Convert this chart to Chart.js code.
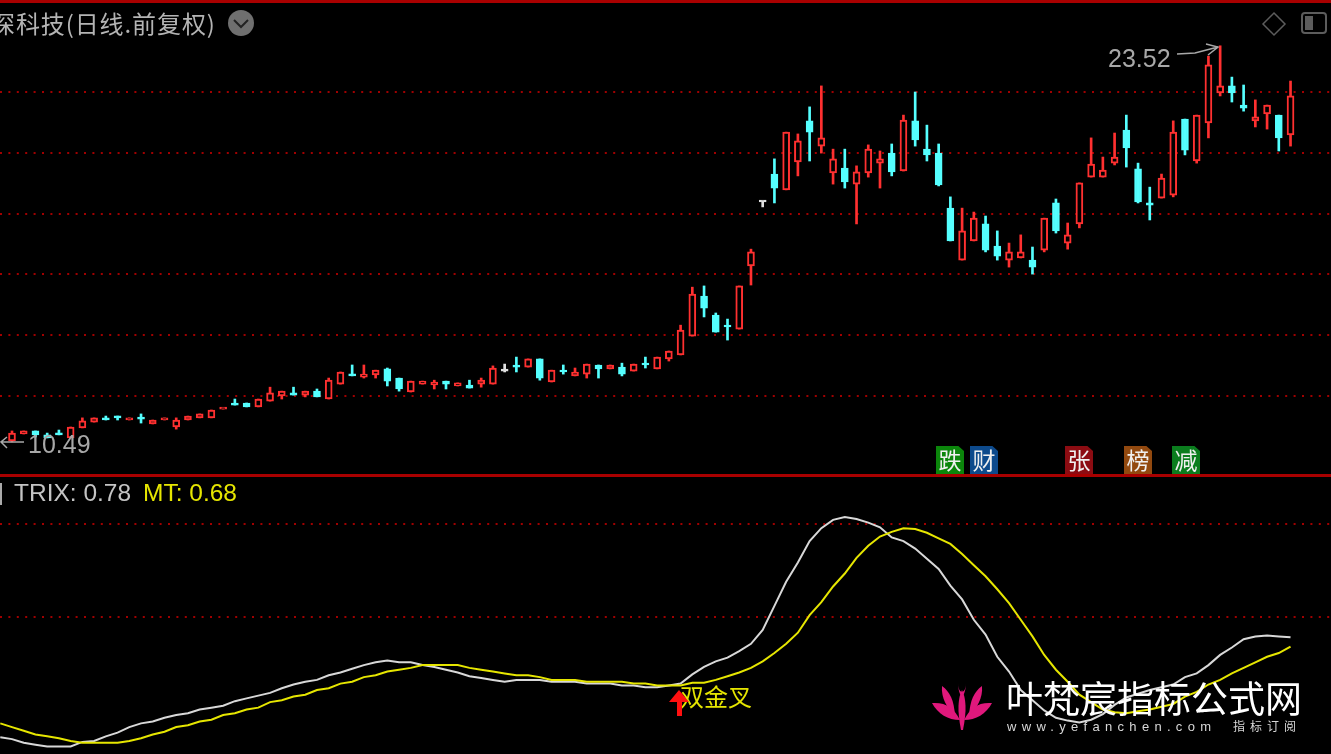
<!DOCTYPE html>
<html>
<head>
<meta charset="utf-8">
<title>深科技 TRIX</title>
<script src="https://cdn.jsdelivr.net/npm/chart.js@4"></script>
<style>
  html, body { margin: 0; padding: 0; background: #000; overflow: hidden; }
  #page { position: relative; width: 1331px; height: 754px; background: #000; overflow: hidden; font-family: "Liberation Sans", sans-serif; }
  canvas { position: absolute; left: 0; }
  .rule { position: absolute; left: 0; width: 1331px; height: 3px; background: #a80000; }
  .txt { position: absolute; white-space: nowrap; line-height: 1; }
  .cjk { font-family: "Noto Sans CJK SC", sans-serif; }
  .badge { position: absolute; top: 446px; width: 28px; height: 28px; line-height: 28px; text-align: center; color: #f0f0f0; font: 23px/27px "Noto Sans CJK SC", sans-serif; clip-path: polygon(0 0, 80% 0, 100% 18%, 100% 100%, 0 100%); }
  svg { position: absolute; left: 0; top: 0; }
</style>
</head>
<body>
<div id="page">
  <canvas id="priceChart" width="1331" height="476" style="top:0"></canvas>
  <canvas id="trixChart" width="1331" height="278" style="top:476px"></canvas>
  <div class="rule" style="top:0"></div>
  <div class="rule" style="top:474px"></div>

  <div class="txt cjk" style="left:-9px;top:11px;font-size:24px;letter-spacing:.9px;color:#b4b4b4">深科技(日线.前复权)</div>
  <div class="txt" style="left:1108px;top:46px;font-size:25px;color:#a8a8a8">23.52</div>
  <div class="txt" style="left:28px;top:432px;font-size:25px;color:#a8a8a8">10.49</div>

  <div class="badge" style="left:936px;background:#0b860b">跌</div>
  <div class="badge" style="left:970px;background:#0d4a8c">财</div>
  <div class="badge" style="left:1065px;background:#8c0c12">张</div>
  <div class="badge" style="left:1124px;background:#92490f">榜</div>
  <div class="badge" style="left:1172px;background:#0b7d1e">减</div>

  <div class="txt" style="left:14px;top:481px;font-size:24.5px;color:#c4c4c4">TRIX: 0.78</div>
  <div class="txt" style="left:143px;top:481px;font-size:24.5px;color:#e6e600">MT: 0.68</div>
  <div class="txt cjk" style="left:680px;top:684px;font-size:24px;color:#e6e600">双金叉</div>

  <svg width="1331" height="754">
    <!-- 顶部图标 -->
    <circle cx="241" cy="23" r="13" fill="#6f6f6f"/>
    <path d="M234 20 L241 27 L248 20" fill="none" stroke="#222" stroke-width="2"/>
    <path d="M1274 13 L1285 24 L1274 35 L1263 24 Z" fill="none" stroke="#5c5c5c" stroke-width="1.5"/>
    <rect x="1302" y="13" width="24" height="20" rx="3" fill="none" stroke="#5c5c5c" stroke-width="2"/>
    <rect x="1305" y="16" width="8" height="14" fill="#5c5c5c"/>
    <path d="M1 483 V505" stroke="#aaa" stroke-width="2"/>
    <!-- 最高最低价箭头 -->
    <path d="M1177 54 L1195 53 L1218 47 M1206 44 L1218 47 L1208 55" fill="none" stroke="#a8a8a8" stroke-width="1.5"/>
    <path d="M24 442 H1 M7 437 L1 442 L7 448" fill="none" stroke="#a8a8a8" stroke-width="1.5"/>
    <!-- 金叉箭头 -->
    <path d="M679 690 L689 702 L682 702 L682 716 L677 716 L677 702 L669 702 Z" fill="#ff1010"/>
    <!-- 水印 -->
    <g fill="#e0187c">
      <path d="M932 703 C946 702 954 708 960 720 C948 720 938 714 932 703 Z"/>
      <path d="M992 703 C978 702 970 708 964 720 C976 720 986 714 992 703 Z"/>
      <path d="M942 686 C950 692 954 700 955 716 C947 708 941 698 942 686 Z"/>
      <path d="M982 686 C974 692 970 700 969 716 C977 708 983 698 982 686 Z"/>
      <path d="M962 690 C966 698 967 710 963 730 L961 730 C957 710 958 698 962 690 Z"/>
      <path d="M958 683 C958 690 961 692 962 692 C963 692 966 690 966 683 C966 689 964 696 962 696 C960 696 958 689 958 683 Z"/>
    </g>
  </svg>
  <div class="txt cjk" style="left:1006px;top:679px;font-size:37px;color:#fff">叶梵宸指标公式网</div>
  <div class="txt" style="left:1007px;top:720px;font-size:13px;letter-spacing:5.3px;color:#d8d8d8">www.yefanchen.com</div>
  <div class="txt cjk" style="left:1233px;top:720px;font-size:12px;letter-spacing:5px;color:#d8d8d8">指标订阅</div>
</div>

<script>
// K线数据（从图上读的）
const opens = [10.52,10.75,10.85,10.72,10.78,10.62,10.95,11.14,11.28,11.34,11.21,11.31,11.08,11.21,10.98,11.21,11.28,11.28,11.57,11.77,
  11.77,11.64,11.83,12.00,12.10,12.03,12.16,11.90,12.39,12.72,12.62,12.69,12.89,12.59,12.13,12.39,12.36,12.49,12.33,12.36,
  12.39,12.39,12.82,13.02,12.95,13.22,12.46,12.85,12.66,12.72,13.02,12.89,12.95,12.82,13.08,12.89,13.22,13.35,13.97,15.29,
  14.66,14.33,14.20,16.28,18.38,19.30,18.78,19.70,21.05,20.22,19.34,19.50,18.97,19.34,19.66,19.99,19.40,21.05,20.12,19.99,
  18.18,16.47,17.10,17.66,16.93,16.47,16.54,16.47,16.80,18.35,17.03,17.66,19.20,19.20,19.66,20.75,19.47,18.35,18.51,18.61,
  21.11,19.73,20.98,21.97,22.20,21.57,21.05,21.28,21.24,20.59];
const closes = [10.78,10.85,10.72,10.62,10.72,10.98,11.18,11.28,11.21,11.28,11.28,11.24,11.21,11.28,11.21,11.34,11.41,11.54,11.60,11.70,
  11.64,11.90,12.10,12.16,12.03,12.16,11.97,12.52,12.79,12.66,12.72,12.85,12.49,12.23,12.49,12.49,12.46,12.39,12.43,12.26,
  12.52,12.92,12.82,12.95,13.22,12.59,12.85,12.79,12.79,13.05,12.89,13.02,12.72,13.05,13.02,13.28,13.48,14.17,15.35,14.89,
  14.10,14.27,15.62,16.74,18.38,18.84,20.68,20.39,20.68,20.49,19.80,19.04,19.37,20.12,19.80,19.37,21.08,20.42,19.93,18.94,
  17.10,17.43,17.85,16.80,16.60,16.74,16.74,16.24,17.85,17.43,17.30,19.01,19.63,19.43,19.86,20.16,18.38,18.28,19.17,20.68,
  20.09,21.24,22.89,22.20,21.97,21.47,21.18,21.57,20.49,21.87];
const highs = [10.85,10.85,10.85,10.78,10.88,10.98,11.28,11.28,11.34,11.34,11.28,11.41,11.21,11.28,11.28,11.34,11.41,11.54,11.60,11.90,
  11.77,11.90,12.29,12.16,12.29,12.16,12.23,12.59,12.79,13.02,13.02,12.85,12.92,12.59,12.49,12.49,12.52,12.49,12.43,12.52,
  12.59,12.99,13.05,13.28,13.22,13.22,12.85,13.02,12.92,13.05,13.02,13.02,13.08,13.05,13.28,13.28,13.48,14.33,15.58,15.62,
  14.73,14.53,15.62,16.83,18.41,19.80,20.68,20.62,21.51,22.20,20.12,20.12,19.57,20.26,20.06,20.29,21.24,22.00,20.91,20.29,
  18.55,18.18,18.05,17.92,17.43,17.03,17.30,16.90,17.85,18.48,17.69,19.01,20.49,19.86,20.65,21.24,19.66,18.87,19.30,21.05,
  21.11,21.24,23.18,23.52,22.49,22.23,21.74,21.57,21.24,22.36];
const lows = [10.49,10.75,10.65,10.62,10.72,10.62,10.95,11.14,11.21,11.21,11.21,11.11,11.08,11.21,10.91,11.21,11.28,11.28,11.57,11.70,
  11.64,11.64,11.83,11.90,12.03,11.97,11.97,11.90,12.39,12.66,12.59,12.59,12.33,12.16,12.13,12.39,12.23,12.23,12.33,12.26,
  12.29,12.39,12.79,12.79,12.95,12.52,12.46,12.72,12.66,12.59,12.59,12.89,12.66,12.82,12.92,12.89,13.15,13.35,13.97,14.60,
  14.10,13.84,14.20,15.65,18.22,18.35,18.78,19.24,19.73,19.99,18.97,18.84,17.66,19.20,18.84,19.24,19.40,20.22,19.73,18.91,
  17.10,16.47,17.10,16.74,16.47,16.24,16.54,16.01,16.74,17.36,16.83,17.53,19.20,19.20,19.60,19.53,18.35,17.79,18.51,18.55,
  19.93,19.66,20.49,21.87,21.67,21.37,20.85,20.78,20.06,20.22];
const priceTicks = [12, 14, 16, 18, 20, 22];

// TRIX / MT，第一个点在第一根K线左边一格
const trix = [-.30,-.32,-.36,-.38,-.40,-.40,-.40,-.35,-.34,-.29,-.25,-.19,-.15,-.13,-.09,-.06,-.04,0,.02,.04,
  .09,.12,.15,.18,.23,.27,.30,.32,.37,.40,.44,.48,.51,.53,.51,.51,.48,.46,.43,.40,
  .36,.34,.32,.30,.32,.32,.32,.30,.30,.30,.28,.28,.28,.26,.26,.24,.24,.26,.28,
  .38,.46,.52,.56,.63,.71,.86,1.12,1.38,1.59,1.82,1.96,2.05,2.08,2.06,2.02,1.97,1.86,1.82,1.74,
  1.63,1.52,1.34,1.19,.97,.81,.57,.41,.21,.10,-.01,-.09,-.12,-.14,-.11,-.05,.05,.13,.17,.21,
  .24,.27,.35,.39,.48,.59,.67,.76,.79,.80,.79,.78];
const mt = [-.15,-.19,-.23,-.27,-.29,-.31,-.34,-.36,-.36,-.36,-.36,-.34,-.31,-.27,-.24,-.19,-.17,-.13,-.11,-.06,
  -.04,0,.02,.08,.10,.14,.16,.21,.23,.28,.30,.35,.37,.41,.43,.45,.48,.48,.48,.48,
  .45,.43,.41,.39,.37,.37,.35,.32,.32,.32,.30,.30,.30,.30,.28,.28,.26,.26,.26,
  .29,.29,.32,.36,.40,.45,.52,.61,.71,.83,1.02,1.16,1.33,1.47,1.64,1.77,1.87,1.92,1.96,1.95,
  1.91,1.85,1.79,1.68,1.56,1.44,1.30,1.15,.97,.79,.59,.43,.30,.16,.08,0,-.03,-.04,-.02,0,
  .03,.06,.14,.19,.27,.32,.39,.45,.51,.57,.61,.68];
const trixTicks = [1, 2];

const RED = "#ff3030", CYAN = "#55ffff", WHITE = "#e0e0e0", GRID = "#a00000";

// x轴两个面板共用，K线间距约11.73px
const xRange = { type: "linear", display: false, offset: false, min: -1.023, max: 112.45 };

function candleColor(i) {
  if (closes[i] > opens[i]) return RED;
  if (closes[i] < opens[i]) return CYAN;
  return WHITE;
}

function yAxis(min, max, tickValues) {
  return {
    type: "linear",
    min: min,
    max: max,
    afterBuildTicks: scale => { scale.ticks = tickValues.map(v => ({ value: v })); },
    ticks: { display: false },
    grid: { color: GRID, lineWidth: 2, drawTicks: false },
    border: { display: false, dash: [2, 6.4] }
  };
}

const baseOptions = {
  responsive: false,
  animation: false,
  layout: { padding: 0 },
  plugins: { legend: { display: false }, tooltip: { enabled: false } }
};

new Chart(document.getElementById("priceChart"), {
  type: "bar",
  data: {
    datasets: [
      {
        label: "body",
        order: 1,
        data: opens.map((o, i) => ({ x: i, y: [o, closes[i]] })),
        barThickness: 7,
        minBarLength: 2,
        grouped: false,
        borderSkipped: false,
        borderWidth: 2,
        borderColor: c => candleColor(c.dataIndex),
        backgroundColor: c => (closes[c.dataIndex] > opens[c.dataIndex] ? "#000" : candleColor(c.dataIndex))
      },
      {
        label: "wick",
        order: 2,
        data: lows.map((l, i) => ({ x: i, y: [l, highs[i]] })),
        barThickness: 2,
        grouped: false,
        borderSkipped: false,
        borderWidth: 0,
        backgroundColor: c => candleColor(c.dataIndex)
      }
    ]
  },
  options: {
    ...baseOptions,
    scales: { x: xRange, y: yAxis(9.368, 25.026, priceTicks) }
  }
});

new Chart(document.getElementById("trixChart"), {
  type: "line",
  data: {
    datasets: [
      {
        label: "MT",
        order: 1,
        data: mt.map((v, i) => ({ x: i - 1, y: v })),
        borderColor: "#e6e600",
        borderWidth: 2,
        pointRadius: 0,
        tension: 0
      },
      {
        label: "TRIX",
        order: 2,
        data: trix.map((v, i) => ({ x: i - 1, y: v })),
        borderColor: "#d8d8d8",
        borderWidth: 2,
        pointRadius: 0,
        tension: 0
      }
    ]
  },
  options: {
    ...baseOptions,
    scales: { x: xRange, y: yAxis(-0.481, 2.524, trixTicks) }
  }
});
</script>
</body>
</html>
